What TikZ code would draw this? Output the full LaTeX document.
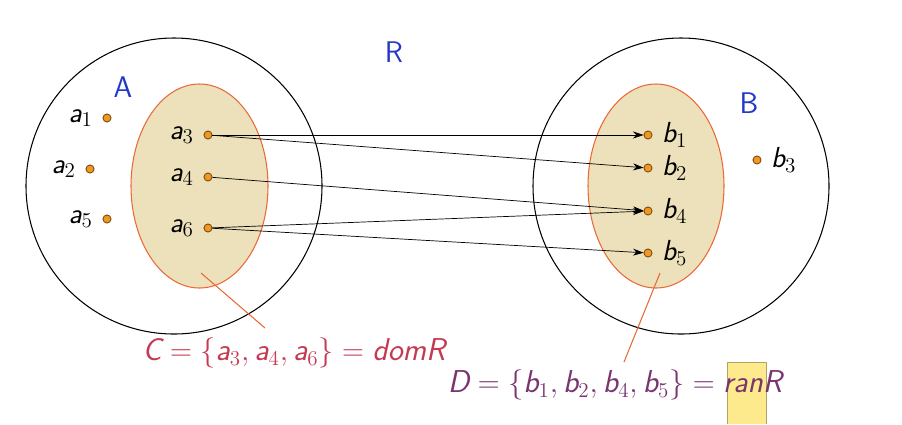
\documentclass[tikz,border=0pt]{standalone}
\usepackage{amsmath}
\usetikzlibrary{arrows.meta, positioning}
\definecolor{dotorange}{RGB}{242,152,32}
\definecolor{dotedge}{RGB}{120,75,20}
\definecolor{setfill}{RGB}{236,225,186}
\definecolor{setedge}{RGB}{232,105,55}
\definecolor{setblue}{RGB}{35,55,200}
\definecolor{domred}{RGB}{196,58,82}
\definecolor{ranpurple}{RGB}{122,52,112}
\definecolor{marker}{RGB}{252,234,140}
\newcommand{\mv}[1]{\text{\sffamily\slshape #1}}

\begin{document}
\begin{tikzpicture}[x=0.02cm, y=-0.02cm, >={Stealth[length=6pt, width=4pt]},
  font=\fontsize{16.5}{19}\selectfont,
  pt/.style={circle, draw=dotedge, line width=0.5pt, fill=dotorange,
    inner sep=0pt, minimum size=4.6pt},
  setname/.style={text=setblue, font=\fontsize{17}{20}\selectfont\sffamily},
  subset/.style={draw=setedge, fill=setfill, line width=0.6pt},
  pointer/.style={draw=setedge, line width=0.6pt}]
  \useasboundingbox (0,0) rectangle (902,424);

  % the two sets and their subsets
  \draw[line width=0.6pt] (174,186) circle[radius=148*0.02cm];
  \draw[line width=0.6pt] (681,186) circle[radius=148*0.02cm];
  \path[subset] (199.5,186) ellipse[x radius=68.5*0.02cm, y radius=102*0.02cm];
  \path[subset] (656,186) ellipse[x radius=68*0.02cm, y radius=102*0.02cm];

  \node[setname] (nameA) at (123,87) {A};
  \node[setname] (nameR) at (394,52) {R};
  \node[setname] (nameB) at (749,103) {B};

  % elements of A
  \node[pt] (a1) at (107,118) {};
  \node[pt] (a2) at (90,169) {};
  \node[pt] (a5) at (107,219) {};
  \node[pt] (a3) at (208,135) {};
  \node[pt] (a4) at (208,177) {};
  \node[pt] (a6) at (208,228) {};
  \foreach \e in {1,2,5,3,4,6}
    \node[left=2pt of a\e] (la\e) {$\mv{a}_{\e}$};

  % elements of B
  \node[pt] (b1) at (648,135) {};
  \node[pt] (b2) at (648,168) {};
  \node[pt] (b4) at (648,211) {};
  \node[pt] (b5) at (648,253) {};
  \node[pt] (b3) at (757,160) {};
  \foreach \e in {1,2,4,5,3}
    \node[right=2pt of b\e] (lb\e) {$\mv{b}_{\e}$};

  % the relation
  \draw[->] (a3) -- (b1);
  \draw[->] (a3) -- (b2);
  \draw[->] (a4) -- (b4);
  \draw[->] (a6) -- (b4);
  \draw[->] (a6) -- (b5);

  % domain and range
  \coordinate (domtip) at (201,273);
  \coordinate (domend) at (265,328);
  \coordinate (rantip) at (660,273);
  \coordinate (ranend) at (624,362);
  \path[pointer] (domtip) -- (domend);
  \path[pointer] (rantip) -- (ranend);
  \fill[marker] (727,362) rectangle (766,424);
  \draw[marker!70!black, line width=0.4pt] (727,424) -- (727,362) -- (766,362) -- (766,424);
  \node[text=domred, font=\fontsize{18}{21}\selectfont] (dom) at (294,353)
    {$\mv{C}=\{\mv{a}_3,\mv{a}_4,\mv{a}_6\}=\mv{domR}$};
  \node[text=ranpurple, font=\fontsize{18}{21}\selectfont] (ran) at (615,385)
    {$\mv{D}=\{\mv{b}_1,\mv{b}_2,\mv{b}_4,\mv{b}_5\}=\mv{ranR}$};
\end{tikzpicture}
\end{document}
